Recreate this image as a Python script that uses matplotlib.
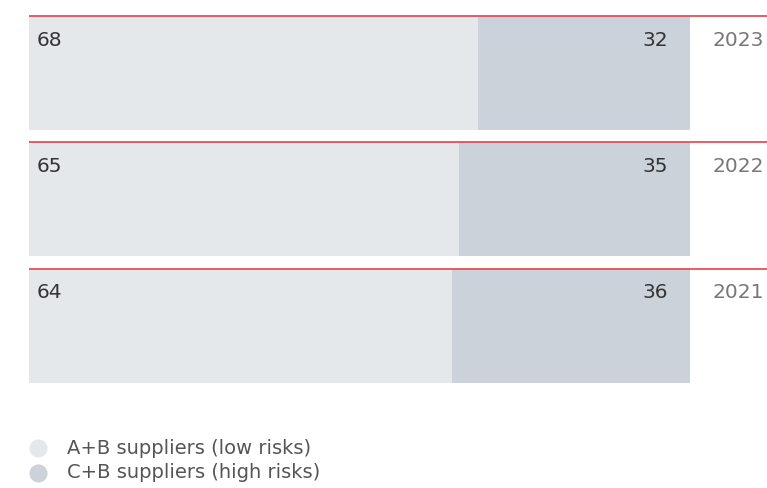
import matplotlib
matplotlib.use('Agg')
import matplotlib.pyplot as plt

# Data
years = ['2023', '2022', '2021']
low_risk = [68, 65, 64]
high_risk = [32, 35, 36]
legend_labels = ['A+B suppliers (low risks)', 'C+B suppliers (high risks)']

LIGHT = '#e4e8eb'
DARK = '#cbd2d9'
RED = '#e8404a'
TEXT = '#333333'
GREY = '#777777'

plt.rcParams['font.family'] = ['DejaVu Sans']

W, H = 767, 488
fig = plt.figure(figsize=(W / 100, H / 100), dpi=100)
ax = fig.add_axes([0, 0, 1, 1])

# map data units: 0 -> px 29, 100 -> px 690
x0, x1 = 29, 690
scale = (x1 - x0) / 100.0
ax.set_xlim(-x0 / scale, 100 + (W - x1) / scale)
ax.set_ylim(H, 0)
ax.axis('off')

tops = [16, 142, 269]
bar_h = 114
centers = [t + bar_h / 2 for t in tops]

ax.barh(centers, low_risk, height=bar_h, color=LIGHT, linewidth=0)
ax.barh(centers, high_risk, left=low_risk, height=bar_h, color=DARK, linewidth=0)

xr = ax.get_xlim()[1]
for t, c, lo, hi, yr in zip(tops, centers, low_risk, high_risk, years):
    ax.plot([0, xr], [t, t], color=RED, lw=1.2, solid_capstyle='butt')
    ax.text(8 / scale, t + 24, str(lo), ha='left', va='center', fontsize=14.5, color=TEXT)
    ax.text(100 - 22 / scale, t + 24, str(hi), ha='right', va='center', fontsize=14.5, color=TEXT)
    ax.text(100 + 23 / scale, t + 24, yr, ha='left', va='center', fontsize=14.5, color=GREY)

# Legend
for i, (lab, col) in enumerate(zip(legend_labels, [LIGHT, DARK])):
    yy = 448 + i * 25
    ax.scatter([(38 - x0) / scale], [yy], s=170, color=col, linewidths=0)
    ax.text((67 - x0) / scale, yy, lab, ha='left', va='center', fontsize=14, color='#555555')

fig.savefig('out.png', dpi=100)
